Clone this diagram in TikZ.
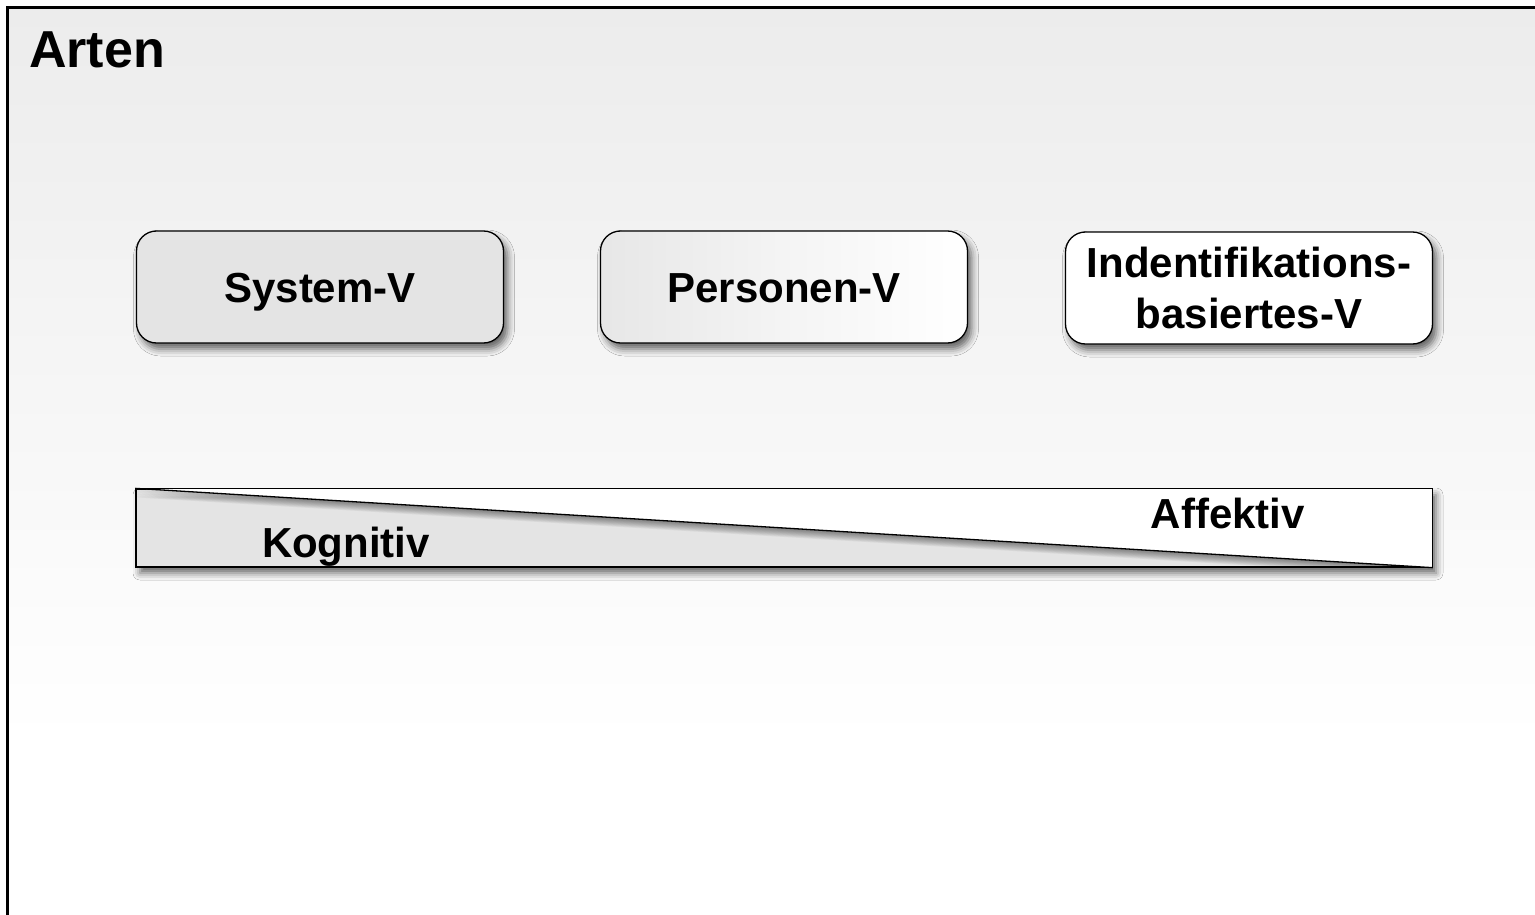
\documentclass[tikz,border=0pt]{standalone}
\usepackage{fontspec}
\setmainfont{Liberation Sans}
\usetikzlibrary{shadows.blur}
\definecolor{bgtop}{HTML}{ECECEC}
\definecolor{boxgray}{HTML}{E4E4E4}
\pgfdeclareverticalshading{bgshade}{100bp}{color(0bp)=(white); color(35bp)=(white); color(75bp)=(bgtop); color(100bp)=(bgtop)}
\tikzset{
  shad/.style={blur shadow={shadow xshift=4pt, shadow yshift=-6pt, shadow blur radius=7pt, shadow opacity=60}},
  vbox/.style={draw=black, line width=1.3pt, rounded corners=20pt, minimum width=367pt, minimum height=112pt,
     inner sep=0pt, font=\fontsize{42}{51}\selectfont\bfseries, align=center, shad},
  onel/.style={text height=30pt, text depth=0pt},
  lbl/.style={font=\fontsize{42}{51}\selectfont\bfseries, inner sep=0pt, anchor=base},
}
\begin{document}
\begin{tikzpicture}[x=1pt,y=-1pt]
\useasboundingbox (0,0) rectangle (1535,915);
% background frame
\shade[shading=bgshade] (7.5,7.5) rectangle (1545,925);
\draw[line width=2.5pt] (1545,7.5) -- (7.5,7.5) -- (7.5,925);
\node[font=\fontsize{52}{60}\selectfont\bfseries, inner sep=0pt, anchor=base west] (title) at (29,68) {Arten};
% boxes
\node[vbox, onel, fill=boxgray] (sys) at (320,287) {System-V};
\node[vbox, onel, left color=boxgray!90, right color=white, middle color=boxgray!40!white] (pers) at (784,287) {Personen-V};
\node[vbox, fill=white] (ident) at (1249,288) {Indentifikations-\\basiertes-V};
% bar
\node[draw=black, line width=1.3pt, fill=boxgray, minimum width=1296pt, minimum height=78pt, inner sep=0pt, shad] (bar) at (784,528) {};
\begin{scope}
  \clip (bar.south west) rectangle (bar.north east);
  \foreach \i in {1,...,10}{
    \fill[black, opacity=0.05]
      ([yshift=-\i*0.9pt]bar.north west) -- ([yshift=-\i*0.9pt]bar.north east) -- ([yshift=-\i*0.9pt]bar.south east) -- cycle;
  }
  \fill[white] (bar.north west) -- (bar.north east) -- (bar.south east) -- cycle;
\end{scope}
\draw[line width=1.3pt] (bar.north west) -- (bar.south east);
\draw[line width=1.3pt] (bar.south west) rectangle (bar.north east);
\node[lbl] (kog) at (346,557) {Kognitiv};
\node[lbl] (aff) at (1228,528) {Affektiv};
\end{tikzpicture}
\end{document}
